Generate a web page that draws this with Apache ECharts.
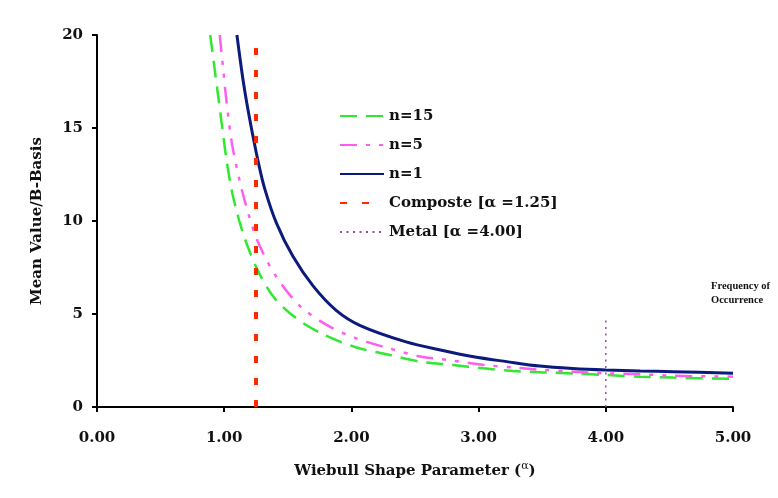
<!DOCTYPE html>
<html>
<head>
<meta charset="utf-8">
<script src="https://cdn.jsdelivr.net/npm/echarts@6/dist/echarts.min.js"></script>
<style>
  html, body { margin: 0; padding: 0; background: #fff; }
  #chart { width: 778px; height: 498px; }
</style>
</head>
<body>
<div id="chart"></div>
<script>
// values: [alpha, mean/B-basis]
var n15Data = [
  [0.89, 20], [0.93, 17.9], [0.97, 15.8], [1.02, 13.2], [1.07, 11.3],
  [1.15, 9.3], [1.26, 7.4], [1.39, 5.9], [1.57, 4.75], [1.78, 3.9],
  [2.04, 3.2], [2.30, 2.8], [2.54, 2.44], [2.80, 2.26], [3.04, 2.08],
  [3.27, 1.94], [3.51, 1.86], [3.77, 1.8], [4.0, 1.72], [4.27, 1.63],
  [4.53, 1.58], [5.0, 1.51]
];
var n5Data = [
  [0.965, 20], [0.99, 18.3], [1.02, 16.3], [1.06, 14.2], [1.12, 12.2],
  [1.19, 10.4], [1.27, 8.8], [1.41, 7.0], [1.60, 5.4], [1.83, 4.32],
  [2.04, 3.69], [2.30, 3.15], [2.54, 2.72], [2.80, 2.49], [3.04, 2.26],
  [3.27, 2.13], [3.51, 1.99], [3.74, 1.9], [4.0, 1.81], [4.27, 1.76],
  [4.53, 1.68], [5.0, 1.63]
];
var n1Data = [
  [1.10, 20], [1.15, 17.5], [1.20, 15.5], [1.27, 13.1], [1.32, 11.7],
  [1.41, 9.9], [1.54, 8.1], [1.70, 6.5], [1.88, 5.2], [2.07, 4.38],
  [2.43, 3.5], [2.70, 3.06], [2.96, 2.7], [3.22, 2.44],
  [3.48, 2.2], [3.74, 2.07], [4.0, 1.99], [4.27, 1.94], [4.53, 1.9],
  [5.0, 1.81]
];
var compositeData = [[1.25, 0], [1.25, 20]];
var metalData = [[4.0, 0], [4.0, 4.78]];

var seriesNames = ["n=15", "n=5", "n=1", "Composte [\u03b1 =1.25]", "Metal [\u03b1 =4.00]"];
var xTicks = [0, 1, 2, 3, 4, 5];
var yTicks = [0, 5, 10, 15, 20];

var font = "DejaVu Serif";

var chart = echarts.init(document.getElementById("chart"), null, { renderer: "canvas" });

var option = {
  animation: false,
  backgroundColor: "#ffffff",
  grid: {
    left: 97,
    right: 45,
    top: 35,
    bottom: 91,
    containLabel: false
  },
  legend: {
    orient: "vertical",
    left: 339,
    top: 108.5,
    padding: 0,
    itemWidth: 44,
    itemHeight: 14,
    itemGap: 14,
    itemStyle: { opacity: 0 },
    data: seriesNames,
    textStyle: {
      fontFamily: font,
      fontWeight: "bold",
      fontSize: 15,
      color: "#111"
    }
  },
  xAxis: {
    type: "value",
    min: xTicks[0],
    max: xTicks[xTicks.length - 1],
    interval: 1,
    name: "Wiebull Shape Parameter ({a|\u03b1})",
    nameLocation: "middle",
    nameGap: 54,
    nameTextStyle: {
      fontFamily: font,
      fontWeight: "bold",
      fontSize: 15,
      color: "#111",
      rich: {
        a: {
          fontFamily: font,
          fontWeight: "normal",
          fontSize: 11,
          color: "#111",
          padding: [0, 0, 9, 0]
        }
      }
    },
    axisLine: { show: true, onZero: false, lineStyle: { color: "#000", width: 2 } },
    axisTick: { show: true, length: 5, lineStyle: { color: "#000", width: 2 } },
    axisLabel: {
      margin: 24,
      fontFamily: font,
      fontWeight: "bold",
      fontSize: 15,
      color: "#111",
      formatter: function (v) { return v.toFixed(2); }
    },
    splitLine: { show: false }
  },
  yAxis: {
    type: "value",
    min: yTicks[0],
    max: yTicks[yTicks.length - 1],
    interval: 5,
    name: "Mean Value/B-Basis",
    nameLocation: "middle",
    nameGap: 52,
    nameTextStyle: {
      fontFamily: font,
      fontWeight: "bold",
      fontSize: 15,
      color: "#111"
    },
    axisLine: { show: true, onZero: false, lineStyle: { color: "#000", width: 2 } },
    axisTick: { show: true, length: 5, lineStyle: { color: "#000", width: 2 } },
    axisLabel: {
      margin: 14,
      fontFamily: font,
      fontWeight: "bold",
      fontSize: 15,
      color: "#111"
    },
    splitLine: { show: false }
  },
  series: [
    {
      name: seriesNames[0],
      type: "line",
      data: n15Data,
      smooth: 0.3,
      symbol: "none",
      color: "#2fe82f",
      lineStyle: { color: "#2fe82f", width: 2.5, type: [17, 9] }
    },
    {
      name: seriesNames[1],
      type: "line",
      data: n5Data,
      smooth: 0.3,
      symbol: "none",
      color: "#ff5cf0",
      lineStyle: { color: "#ff5cf0", width: 2.5, type: [17, 9, 4, 9, 4, 9] }
    },
    {
      name: seriesNames[2],
      type: "line",
      data: n1Data,
      smooth: 0.3,
      symbol: "none",
      color: "#0c1a7c",
      lineStyle: { color: "#0c1a7c", width: 3 }
    },
    {
      name: seriesNames[3],
      type: "line",
      data: compositeData,
      symbol: "none",
      color: "#ff2a00",
      lineStyle: { color: "#ff2a00", width: 4, type: [7, 15] }
    },
    {
      name: seriesNames[4],
      type: "line",
      data: metalData,
      symbol: "none",
      color: "#9a4c9c",
      lineStyle: { color: "#9a4c9c", width: 1.5, type: [2, 4.5] }
    }
  ],
  graphic: [
    {
      type: "text",
      left: 711,
      top: 279,
      style: {
        text: "Frequency of\nOccurrence",
        fontFamily: "Liberation Serif",
        fontWeight: "bold",
        fontSize: 10.5,
        lineHeight: 14,
        align: "center",
        fill: "#111"
      }
    }
  ]
};

chart.setOption(option);
</script>
</body>
</html>
